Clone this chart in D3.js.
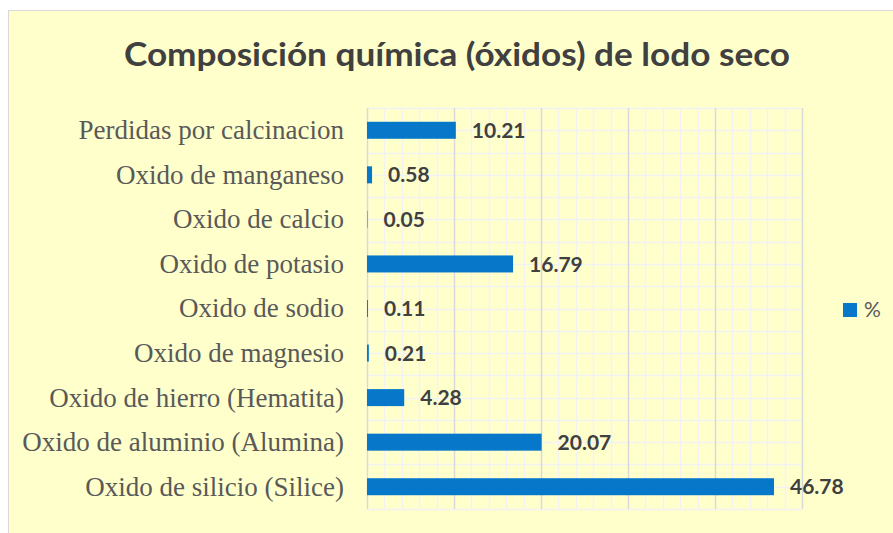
<!DOCTYPE html>
<html>
<head>
<meta charset="utf-8">
<script src="https://cdn.jsdelivr.net/npm/d3@7"></script>
<style>
  body { margin: 0; background: #ffffff; }
</style>
</head>
<body>
<div id="container"></div>
<script>
// data
const categories = [
  'Perdidas por calcinacion',
  'Oxido de manganeso',
  'Oxido de calcio',
  'Oxido de potasio',
  'Oxido de sodio',
  'Oxido de magnesio',
  'Oxido de hierro (Hematita)',
  'Oxido de aluminio (Alumina)',
  'Oxido de silicio (Silice)'
];
const values = [10.21, 0.58, 0.05, 16.79, 0.11, 0.21, 4.28, 20.07, 46.78];
const majorTicks = [0, 10, 20, 30, 40, 50];
const seriesName = '%';

const width = 893, height = 533;
const plot = { left: 367, right: 802, top: 108, bottom: 509 };

const svg = d3.select('#container').append('svg')
  .attr('width', width)
  .attr('height', height);

// chart background + border
svg.append('rect')
  .attr('x', 8.5).attr('y', 10.5)
  .attr('width', width).attr('height', height)
  .style('fill', '#ffffcc')
  .style('stroke', '#d9d9d9');

// title (reference is a bit stretched sideways, so fit its width)
svg.append('text')
  .attr('x', 124).attr('y', 66)
  .attr('textLength', 666)
  .attr('lengthAdjust', 'spacingAndGlyphs')
  .style('font-family', 'Lato, sans-serif')
  .style('font-weight', 'bold')
  .style('font-size', '32px')
  .style('fill', '#404040')
  .text('Composición química (óxidos) de lodo seco');

const x = d3.scaleLinear().domain([0, 50]).range([plot.left, plot.right]);
const y = d3.scaleBand().domain(categories).range([plot.top, plot.bottom]);

const grid = svg.append('g');

// minor vertical lines every 2
grid.selectAll('.vminor').data(d3.range(0, 51, 2).filter(d => d % 10 !== 0))
  .join('line')
  .attr('x1', d => Math.round(x(d)) + 0.5).attr('x2', d => Math.round(x(d)) + 0.5)
  .attr('y1', plot.top).attr('y2', plot.bottom)
  .style('stroke', '#f2f2f2').style('stroke-width', 1.5);

// horizontal lines at category edges and centers
const hLines = [];
categories.forEach(c => { hLines.push(y(c)); hLines.push(y(c) + y.bandwidth() / 2); });
hLines.push(plot.bottom);
grid.selectAll('.h').data(hLines)
  .join('line')
  .attr('x1', plot.left).attr('x2', plot.right)
  .attr('y1', d => Math.round(d) + 0.5).attr('y2', d => Math.round(d) + 0.5)
  .style('stroke', '#f2f2f2').style('stroke-width', 1.5);

// major vertical lines
grid.selectAll('.vmajor').data(majorTicks)
  .join('line')
  .attr('x1', d => Math.round(x(d)) + 0.5).attr('x2', d => Math.round(x(d)) + 0.5)
  .attr('y1', plot.top).attr('y2', plot.bottom)
  .style('stroke', '#d9d9d9').style('stroke-width', 1.5);

// bars
const barH = 17;
svg.selectAll('.bar').data(values)
  .join('rect')
  .attr('x', x(0))
  .attr('y', (d, i) => y(categories[i]) + y.bandwidth() / 2 - barH / 2)
  .attr('width', d => x(d) - x(0))
  .attr('height', barH)
  .style('fill', '#0677c9');

// value labels
svg.selectAll('.val').data(values)
  .join('text')
  .attr('x', d => x(d) + 16)
  .attr('y', (d, i) => y(categories[i]) + y.bandwidth() / 2)
  .attr('dy', '0.36em')
  .style('font-family', 'Lato, sans-serif')
  .style('font-weight', 'bold')
  .style('font-size', '21px')
  .style('fill', '#404040')
  .text(d => d.toFixed(2));

// category labels
svg.selectAll('.cat').data(categories)
  .join('text')
  .attr('x', 344)
  .attr('y', d => y(d) + y.bandwidth() / 2)
  .attr('dy', '0.33em')
  .attr('text-anchor', 'end')
  .style('font-family', '"Liberation Serif", serif')
  .style('font-size', '27px')
  .style('fill', '#595959')
  .text(d => d);

// legend
svg.append('rect')
  .attr('x', 843).attr('y', 303)
  .attr('width', 14).attr('height', 14)
  .style('fill', '#0677c9');
svg.append('text')
  .attr('x', 864).attr('y', 310)
  .attr('dy', '0.35em')
  .style('font-family', 'Lato, sans-serif')
  .style('font-size', '21px')
  .style('fill', '#595959')
  .text(seriesName);
</script>
</body>
</html>
